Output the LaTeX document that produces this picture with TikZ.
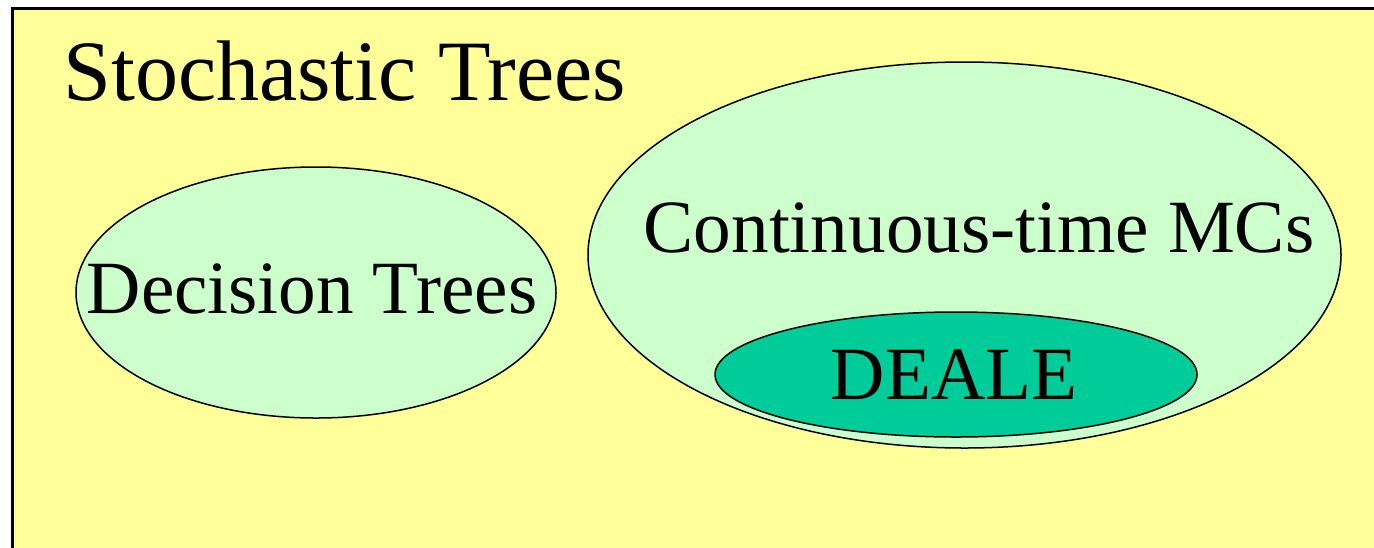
\documentclass[tikz,border=0pt]{standalone}
\usepackage{fontspec}
\setmainfont{Liberation Serif}
\usepackage{tikz}
\usetikzlibrary{shapes.geometric,positioning}

\definecolor{paleyellow}{HTML}{FFFF99}
\definecolor{palegreen}{HTML}{CCFFCC}
\definecolor{dealegreen}{HTML}{00CC99}

\begin{document}
\begin{tikzpicture}[x=0.5pt,y=-0.5pt,
    set/.style={ellipse,draw=black,line width=0.75pt,inner sep=0pt},
    settext/.style={inner sep=0pt,font=\fontsize{37.6}{41}\selectfont}]
  \useasboundingbox (0,0) rectangle (1374,547);
  % outer frame, cut at the right and bottom
  \draw [fill=paleyellow,line width=1.5pt] (1400,570) |- (12,8) -- (12,570);
  \node [] (title) [anchor=base west,inner sep=0pt,
    font=\fontsize{43}{47}\selectfont] at (63,100) {Stochastic Trees};
  \node [set] (dt) [fill=palegreen,minimum width=240pt,minimum height=125.5pt]
    at (316,292.5) {};
  \node [settext] (dttext) [anchor=base] at (312,313) {Decision Trees};
  \node [set] (ctmc) [fill=palegreen,minimum width=376.5pt,minimum height=193pt]
    at (964.5,255) {};
  \node [set] (deale) [fill=dealegreen,minimum width=241pt,minimum height=62.5pt]
    at (956,374.5) {};
  \node [settext] (dealetext) [anchor=base] at (954,399) {DEALE};
  \node [settext] (ctmctext) [anchor=base] at (979,252) {Continuous-time MCs};
\end{tikzpicture}
\end{document}
